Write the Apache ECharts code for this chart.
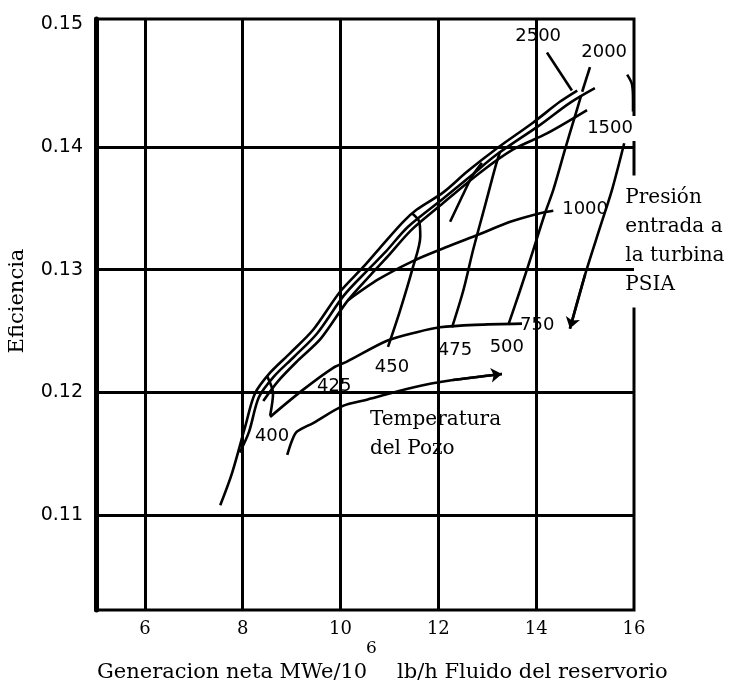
<!DOCTYPE html>
<html>
<head>
<meta charset="utf-8">
<script src="https://cdn.jsdelivr.net/npm/echarts@6/dist/echarts.min.js"></script>
<style>html,body{margin:0;padding:0;background:#fff}#c{width:729px;height:689px}</style>
</head>
<body>
<div id="c"></div>
<script>
// ---- axis ticks / grid values ----
const xTicks = [6, 8, 10, 12, 14, 16];
const yTicks = [0.11, 0.12, 0.13, 0.14, 0.15];
const xGrid = [6, 8, 10, 12, 14];
const yGrid = [0.11, 0.12, 0.13, 0.14];

// ---- constant turbine-inlet-pressure curves (psia) ----
const p2500 = [[7.54,0.1108],[7.78,0.1134],[8.05,0.1172],[8.25,0.1199],[8.56,0.1216],[8.97,0.1232],[9.44,0.1251],[9.99,0.1282],[10.46,0.1302],[10.81,0.1318],[11.28,0.1339],[11.56,0.1349],[12.10,0.1363],[12.59,0.1380],[13.20,0.1399],[13.94,0.1420],[14.49,0.1437],[14.84,0.1446]];
const p2000 = [[7.94,0.1151],[8.13,0.1168],[8.33,0.1196],[8.64,0.1213],[9.05,0.1229],[9.52,0.1248],[10.07,0.1279],[10.54,0.1299],[10.91,0.1314],[11.38,0.1335],[12.10,0.1358],[12.65,0.1376],[13.20,0.1394],[14.08,0.1418],[14.69,0.1436],[15.20,0.1448]];
const p1500 = [[8.42,0.1193],[8.72,0.1209],[9.13,0.1226],[9.60,0.1244],[10.15,0.1275],[10.62,0.1296],[10.97,0.1311],[11.44,0.1332],[12.03,0.1352],[12.85,0.1379],[13.53,0.1398],[14.22,0.1411],[15.04,0.1430]];
const p1000 = [[10.15,0.1275],[10.77,0.1292],[11.48,0.1307],[12.14,0.1318],[12.85,0.1329],[13.47,0.1339],[14.08,0.1346],[14.35,0.1348]];
const p750  = [[8.56,0.1180],[9.23,0.1202],[9.85,0.1220],[10.13,0.1225],[10.95,0.1242],[11.56,0.1249],[12.03,0.1253],[12.75,0.1255],[13.71,0.1256]];

// ---- constant well-temperature curves (F) ----
const t400 = [[8.50,0.1213],[8.62,0.1199],[8.56,0.1181]];
const t450 = [[10.97,0.1237],[11.22,0.1267],[11.48,0.1302],[11.63,0.1327],[11.61,0.1339],[11.46,0.1346]];
const t475 = [[12.28,0.1253],[12.51,0.1283],[12.71,0.1316],[12.96,0.1353],[13.16,0.1383],[13.26,0.1396]];
const t500 = [[13.43,0.1255],[13.67,0.1283],[13.94,0.1316],[14.18,0.1346],[14.35,0.1365],[14.59,0.1398],[14.80,0.1426],[14.92,0.1442]];
const innerSegment = [[12.24,0.1339],[12.49,0.1360],[12.69,0.1376],[12.89,0.1387]];

// ---- annotation strokes ----
const leader2500 = [[14.22,0.1477],[14.73,0.1446]];
const leader2000 = [[15.10,0.1465],[14.94,0.1445]];
const tempArrow = [[8.91,0.1149],[9.01,0.1161],[9.11,0.1168],[9.44,0.1175],[10.05,0.1189],[10.54,0.1194],[11.48,0.1204],[12.30,0.1210],[13.30,0.1215]];
const pressBracket = [[15.86,0.1459],[15.96,0.1451],[15.98,0.1438],[15.98,0.1429]];
const pressArrow = [[15.80,0.1403],[15.55,0.1365],[15.31,0.1335],[15.00,0.1296],[14.69,0.1252]];

// ---- labels ----
const pressureLabels = [['2500',14.04,0.1490],['2000',15.39,0.1477],['1500',15.51,0.1415],['1000',15.00,0.1349],['750',14.02,0.1255]];
const tempLabels = [['400',8.60,0.1164],['425',9.87,0.1205],['450',11.05,0.1220],['475',12.34,0.1234],['500',13.40,0.1237]];
const tempCaption = ['Temperatura', 'del Pozo'];
const tempCaptionAt = [10.52, 0.1166];
const pressCaption = ['Presión', 'entrada a', 'la turbina', 'PSIA'];
const pressCaptionAt = [15.70, 0.1323];
const xTitleMain = 'Generacion neta MWe/10';
const xTitleSup = '6';
const xTitleRest = 'lb/h Fluido del reservorio';
const yTitle = 'Eficiencia';

const chart = echarts.init(document.getElementById('c'), null, {renderer: 'canvas'});
const curveStyle = {color: '#000', width: 2.6};
function curve(data) {
  return {type: 'line', data: data, symbol: 'none', smooth: 0.3, lineStyle: curveStyle, z: 3, silent: true, animation: false};
}
function arrowHead(pts) {
  const n = pts.length;
  return {type: 'lines', coordinateSystem: 'cartesian2d', z: 3, silent: true, animation: false,
    symbol: ['none', 'arrow'], symbolSize: 11,
    lineStyle: {color: '#000', width: 2.6, opacity: 1},
    data: [{coords: [pts[n - 2], pts[n - 1]]}]};
}
const labelBase = {show: true, position: 'inside', formatter: '{b}', color: '#000', opacity: 1,
  fontFamily: 'DejaVu Sans', fontSize: 18, backgroundColor: '#fff', padding: [4, 4, 3, 4]};
function labelSeries(list) {
  return {type: 'scatter', symbolSize: 0, z: 2, silent: true, animation: false, clip: false,
    itemStyle: {opacity: 1},
    data: list.map(d => ({name: d[0], value: [d[1], d[2]]})), label: labelBase};
}
function captionSeries(lines, at, pad) {
  return {type: 'scatter', symbolSize: 0, z: 2, silent: true, animation: false, clip: false,
    itemStyle: {opacity: 1},
    data: [{name: lines.join('\n'), value: at}],
    label: {show: true, position: 'right', distance: 0, formatter: '{b}', color: '#000', opacity: 1, align: 'left',
      fontFamily: 'DejaVu Serif', fontSize: 20, lineHeight: 29, backgroundColor: '#fff', padding: pad}};
}

const gridLineData = xGrid.map(v => ({xAxis: v})).concat(yGrid.map(v => ({yAxis: v})));

const option = {
  backgroundColor: '#fff',
  animation: false,
  grid: {left: 96, right: 95, top: 19, bottom: 79, show: true, borderColor: '#000', borderWidth: 3, backgroundColor: 'transparent'},
  xAxis: {type: 'value', min: 5, max: 16,
    axisLine: {show: false}, axisTick: {show: false}, splitLine: {show: false},
    axisLabel: {customValues: xTicks, margin: 10, color: '#000', fontFamily: 'DejaVu Serif', fontSize: 18}},
  yAxis: {type: 'value', min: 0.10226, max: 0.15043,
    axisLine: {show: true, lineStyle: {color: '#000', width: 5}}, axisTick: {show: false}, splitLine: {show: false},
    axisLabel: {customValues: yTicks, margin: 13, color: '#000', fontFamily: 'DejaVu Sans', fontSize: 19,
      formatter: v => v.toFixed(2)}},
  graphic: [
    {type: 'text', left: 97, top: 662, silent: true, style: {text: xTitleMain, font: '21px "DejaVu Serif"', fill: '#000'}},
    {type: 'text', left: 366, top: 640, silent: true, style: {text: xTitleSup, font: '17px "DejaVu Serif"', fill: '#000'}},
    {type: 'text', left: 397, top: 662, silent: true, style: {text: xTitleRest, font: '21px "DejaVu Serif"', fill: '#000'}},
    {type: 'text', x: 18, y: 301, rotation: Math.PI / 2, silent: true,
      style: {text: yTitle, font: '21px "DejaVu Serif"', fill: '#000', align: 'center', verticalAlign: 'middle'}}
  ],
  series: [
    {type: 'line', data: [], z: 1, silent: true, animation: false,
      markLine: {silent: true, symbol: 'none', animation: false, label: {show: false},
        lineStyle: {color: '#000', width: 3, type: 'solid'}, emphasis: {disabled: true}, data: gridLineData}},
    labelSeries(pressureLabels),
    labelSeries(tempLabels),
    captionSeries(tempCaption, tempCaptionAt, [8, 4, 8, 4]),
    captionSeries(pressCaption, pressCaptionAt, [10, 4, 6, 6]),
    curve(p2500), curve(p2000), curve(p1500), curve(p1000), curve(p750),
    curve(t400), curve(t450), curve(t475), curve(t500), curve(innerSegment),
    curve(leader2500), curve(leader2000),
    curve(tempArrow), arrowHead(tempArrow),
    curve(pressBracket), curve(pressArrow), arrowHead(pressArrow)
  ]
};
chart.setOption(option);
</script>
</body>
</html>
